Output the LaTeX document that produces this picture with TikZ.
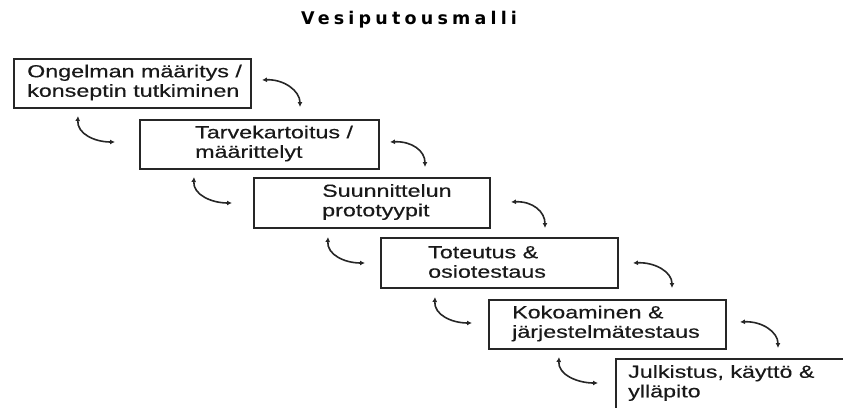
\documentclass[tikz,border=0pt]{standalone}
\usepackage{fontspec}
\usetikzlibrary{arrows.meta}
\newfontfamily\boxfont{Liberation Sans}[FakeStretch=1.33,FakeBold=0.4]
\newfontfamily\titlefont{DejaVu Sans}[LetterSpace=24]
\begin{document}
\begin{tikzpicture}[x=1pt,y=-1pt,
  stage/.style={draw=black!85,line width=1.6pt,minimum width=237pt,minimum height=49pt,anchor=north west,inner sep=0pt},
  label/.style={anchor=west,inner sep=0pt,align=left,text=black!90,font=\boxfont\fontsize{17.5}{19.5}\selectfont},
  link/.style={line width=1.6pt,black!85,{Latex[length=5pt,width=5pt]}-{Latex[length=5pt,width=5pt]}}]
\useasboundingbox (0,0) rectangle (843,407);
\clip (0,0) rectangle (843,407);
\node[font=\titlefont\bfseries\fontsize{17.5}{19}\selectfont] (title) at (409,20) {Vesiputousmalli};
% boxes
\node[stage] (b1) at (13,58) {};
\node[stage,minimum width=239pt] (b2) at (139,119) {};
\node[stage,minimum width=236pt,minimum height=50pt] (b3) at (253,177) {};
\node[stage,minimum height=50pt] (b4) at (380,237) {};
\node[stage] (b5) at (488,299) {};
\node[stage,minimum height=52pt] (b6) at (615,358) {};
% texts
\node[label] (t1) at (27,82.5) {Ongelman määritys /\\konseptin tutkiminen};
\node[label] (t2) at (195,143.5) {Tarvekartoitus /\\määrittelyt};
\node[label] (t3) at (322,202) {Suunnittelun\\prototyypit};
\node[label] (t4) at (428,262) {Toteutus \&\\osiotestaus};
\node[label] (t5) at (512,323.5) {Kokoaminen \&\\järjestelmätestaus};
\node[label] (t6) at (628,383) {Julkistus, käyttö \&\\ylläpito};
% connector end points
\coordinate (r1a) at (262,80);  \coordinate (r1b) at (300,107);
\coordinate (r2a) at (390,142); \coordinate (r2b) at (425,167);
\coordinate (r3a) at (511,202); \coordinate (r3b) at (545,228);
\coordinate (r4a) at (633,263); \coordinate (r4b) at (672,288);
\coordinate (r5a) at (740,322); \coordinate (r5b) at (778,348);
\coordinate (l1a) at (78,116);  \coordinate (l1b) at (115,142);
\coordinate (l2a) at (194,177); \coordinate (l2b) at (232,203);
\coordinate (l3a) at (328,237); \coordinate (l3b) at (365,263);
\coordinate (l4a) at (435,297); \coordinate (l4b) at (472,323);
\coordinate (l5a) at (559,357); \coordinate (l5b) at (598,383);
\foreach \i in {1,...,5}{
  \draw[link] (r\i a) .. controls ([xshift=22pt,yshift=1pt]r\i a) and ([yshift=16pt]r\i b) .. (r\i b);
  \draw[link] (l\i a) .. controls ([xshift=-1pt,yshift=-18pt]l\i a) and ([xshift=-20pt]l\i b) .. (l\i b);
}
\end{tikzpicture}
\end{document}
